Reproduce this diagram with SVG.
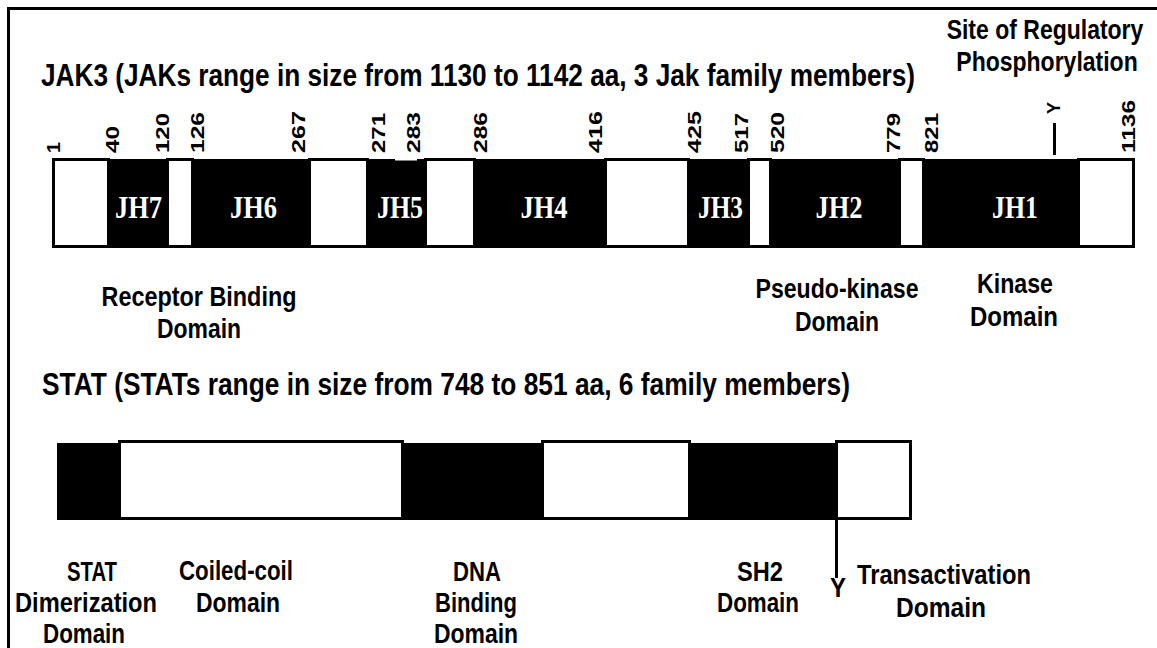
<svg xmlns="http://www.w3.org/2000/svg" width="1157" height="648" viewBox="0 0 1157 648">
<style>
.t{font-family:"Liberation Sans",Arial,sans-serif;fill:#000;font-weight:bold}
.title{font-size:26px}
.lab{font-size:27px;text-anchor:middle}
.num{font-family:"Liberation Sans",Arial,sans-serif;font-size:18px;font-weight:bold;fill:#000}
.jh{font-family:"Liberation Serif","Times New Roman",serif;font-size:32px;font-weight:bold;fill:#fff;text-anchor:middle}
.blk{fill:#000}
.wht{fill:#fff;stroke:#000;stroke-width:3}
.ln{stroke:#000;stroke-width:3;fill:none}
</style>
<rect x="0" y="0" width="1157" height="648" fill="#fff"/>
<rect x="8.5" y="8.5" width="1200" height="700" class="ln"/>

<g id="jak-title">
<text class="t title" transform="translate(41,86) scale(1,1.19)" textLength="874" lengthAdjust="spacingAndGlyphs">JAK3 (JAKs range in size from 1130 to 1142 aa, 3 Jak family members)</text>
</g>
<g id="site-label">
<text class="t" font-size="23" text-anchor="middle" transform="translate(1045,39) scale(1,1.18)">Site of Regulatory</text>
<text class="t" font-size="23" text-anchor="middle" transform="translate(1047,71) scale(1,1.18)">Phosphorylation</text>
</g>

<g id="jak-numbers">
<text class="num" transform="translate(59.5,153) rotate(-90)" textLength="11" lengthAdjust="spacingAndGlyphs">1</text>
<text class="num" transform="translate(119,153) rotate(-90)" textLength="27" lengthAdjust="spacingAndGlyphs">40</text>
<text class="num" transform="translate(168.5,153) rotate(-90)" textLength="40" lengthAdjust="spacingAndGlyphs">120</text>
<text class="num" transform="translate(203.5,153) rotate(-90)" textLength="41" lengthAdjust="spacingAndGlyphs">126</text>
<text class="num" transform="translate(304.5,153) rotate(-90)" textLength="42" lengthAdjust="spacingAndGlyphs">267</text>
<text class="num" transform="translate(385,153) rotate(-90)" textLength="40" lengthAdjust="spacingAndGlyphs">271</text>
<text class="num" transform="translate(419.5,153) rotate(-90)" textLength="41" lengthAdjust="spacingAndGlyphs">283</text>
<text class="num" transform="translate(486.5,153) rotate(-90)" textLength="41" lengthAdjust="spacingAndGlyphs">286</text>
<text class="num" transform="translate(601.5,153) rotate(-90)" textLength="42" lengthAdjust="spacingAndGlyphs">416</text>
<text class="num" transform="translate(700.5,153) rotate(-90)" textLength="42" lengthAdjust="spacingAndGlyphs">425</text>
<text class="num" transform="translate(747.5,153) rotate(-90)" textLength="40" lengthAdjust="spacingAndGlyphs">517</text>
<text class="num" transform="translate(783.5,153) rotate(-90)" textLength="41" lengthAdjust="spacingAndGlyphs">520</text>
<text class="num" transform="translate(899.5,153) rotate(-90)" textLength="40" lengthAdjust="spacingAndGlyphs">779</text>
<text class="num" transform="translate(937.5,153) rotate(-90)" textLength="40" lengthAdjust="spacingAndGlyphs">821</text>
<text class="num" transform="translate(1135,153) rotate(-90)" textLength="53" lengthAdjust="spacingAndGlyphs">1136</text>
<text class="num" font-size="16" transform="translate(1060,114) rotate(-90)" textLength="12" lengthAdjust="spacingAndGlyphs">Y</text>
</g>

<g id="jak-bar">
<rect class="blk" x="108" y="159" width="60" height="89"/>
<rect class="blk" x="192" y="159" width="118" height="89"/>
<rect class="blk" x="368" y="159" width="58" height="89"/>
<rect class="blk" x="474" y="159" width="132" height="89"/>
<rect class="blk" x="688" y="159" width="61" height="89"/>
<rect class="blk" x="770" y="159" width="130" height="89"/>
<rect class="blk" x="923" y="159" width="156" height="89"/>
<rect class="wht" x="53.5" y="159.5" width="55" height="87"/>
<rect class="wht" x="167.5" y="159.5" width="25" height="87"/>
<rect class="wht" x="309.5" y="159.5" width="58" height="87"/>
<rect class="wht" x="425.5" y="159.5" width="49" height="87"/>
<rect class="wht" x="605.5" y="159.5" width="83" height="87"/>
<rect class="wht" x="748.5" y="159.5" width="22" height="87"/>
<rect class="wht" x="899.5" y="159.5" width="24" height="87"/>
<rect class="wht" x="1078.5" y="159.5" width="55" height="87"/>
<rect fill="#fff" x="395" y="158" width="22" height="2.5"/>
</g>
<g id="jak-domains">
<text class="jh" x="138.5" y="218" textLength="47" lengthAdjust="spacingAndGlyphs">JH7</text>
<text class="jh" x="253.5" y="218" textLength="47" lengthAdjust="spacingAndGlyphs">JH6</text>
<text class="jh" x="400" y="218" textLength="46" lengthAdjust="spacingAndGlyphs">JH5</text>
<text class="jh" x="544" y="218" textLength="47" lengthAdjust="spacingAndGlyphs">JH4</text>
<text class="jh" x="720.5" y="218" textLength="45" lengthAdjust="spacingAndGlyphs">JH3</text>
<text class="jh" x="839" y="218" textLength="47" lengthAdjust="spacingAndGlyphs">JH2</text>
<text class="jh" x="1015" y="218" textLength="46" lengthAdjust="spacingAndGlyphs">JH1</text>
</g>

<g id="jak-labels">
<text class="t lab" x="199" y="306" textLength="195" lengthAdjust="spacingAndGlyphs">Receptor Binding</text>
<text class="t lab" x="199" y="338" textLength="84" lengthAdjust="spacingAndGlyphs">Domain</text>
<text class="t lab" x="837" y="298" textLength="163" lengthAdjust="spacingAndGlyphs">Pseudo-kinase</text>
<text class="t lab" x="837" y="331" textLength="84" lengthAdjust="spacingAndGlyphs">Domain</text>
<text class="t lab" x="1015" y="293" textLength="76" lengthAdjust="spacingAndGlyphs">Kinase</text>
<text class="t lab" x="1014" y="326" textLength="88" lengthAdjust="spacingAndGlyphs">Domain</text>
</g>

<g id="stat-title">
<text class="t title" transform="translate(42,395) scale(1,1.19)" textLength="808" lengthAdjust="spacingAndGlyphs">STAT (STATs range in size from 748 to 851 aa, 6 family members)</text>
</g>

<g id="stat-bar">
<rect class="blk" x="57" y="443" width="63" height="77"/>
<rect class="blk" x="401" y="443" width="143" height="77"/>
<rect class="blk" x="688" y="443" width="150" height="77"/>
<rect class="wht" x="119.5" y="441.5" width="283" height="77"/>
<rect class="wht" x="542.5" y="441.5" width="147" height="77"/>
<rect class="wht" x="836.5" y="441.5" width="74" height="77"/>
</g>

<g id="connectors">
<line class="ln" x1="1054.5" y1="123" x2="1054.5" y2="155"/>
<line class="ln" x1="836.5" y1="519" x2="836.5" y2="578"/>
</g>

<g id="stat-labels">
<text class="t lab" x="92" y="581" textLength="50" lengthAdjust="spacingAndGlyphs">STAT</text>
<text class="t lab" x="86" y="612" textLength="142" lengthAdjust="spacingAndGlyphs">Dimerization</text>
<text class="t lab" x="84" y="643" textLength="82" lengthAdjust="spacingAndGlyphs">Domain</text>
<text class="t lab" x="236" y="580" textLength="114" lengthAdjust="spacingAndGlyphs">Coiled-coil</text>
<text class="t lab" x="238" y="612" textLength="84" lengthAdjust="spacingAndGlyphs">Domain</text>
<text class="t lab" x="477" y="581" textLength="48" lengthAdjust="spacingAndGlyphs">DNA</text>
<text class="t lab" x="476" y="612" textLength="82" lengthAdjust="spacingAndGlyphs">Binding</text>
<text class="t lab" x="476" y="643" textLength="84" lengthAdjust="spacingAndGlyphs">Domain</text>
<text class="t lab" x="760" y="581" textLength="46" lengthAdjust="spacingAndGlyphs">SH2</text>
<text class="t lab" x="758" y="612" textLength="82" lengthAdjust="spacingAndGlyphs">Domain</text>
<text class="t lab" font-weight="normal" x="838" y="597" textLength="16" lengthAdjust="spacingAndGlyphs">Y</text>
<text class="t lab" x="944" y="584" textLength="174" lengthAdjust="spacingAndGlyphs">Transactivation</text>
<text class="t lab" x="941" y="617" textLength="90" lengthAdjust="spacingAndGlyphs">Domain</text>
</g>
</svg>
